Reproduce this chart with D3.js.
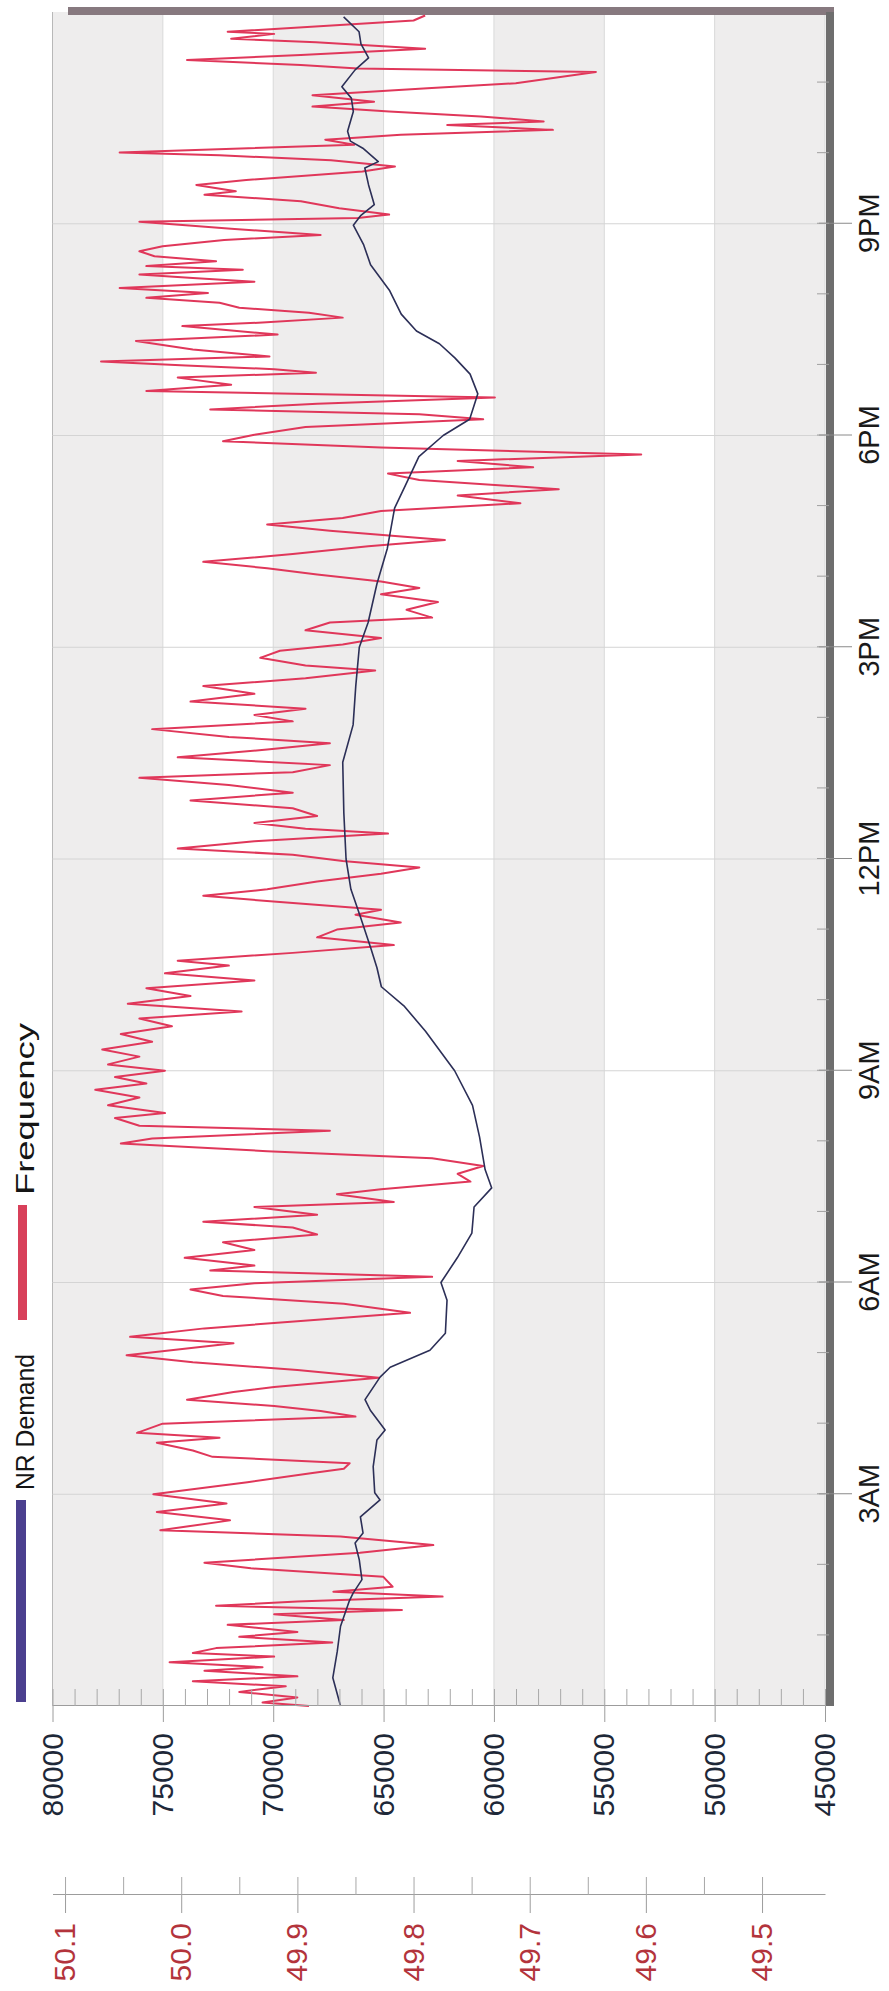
<!DOCTYPE html>
<html>
<head>
<meta charset="utf-8">
<title>NR Demand and Frequency</title>
<script src="https://cdn.jsdelivr.net/npm/d3@7"></script>
<style>
  body { margin: 0; background: #fff; }
  svg text { font-family: "Liberation Sans", Arial, sans-serif; }
</style>
</head>
<body>
<div id="chart"></div>
<script>
// NR demand (MW)
const demandHour = [0.00, 0.40, 0.77, 1.13, 1.49, 1.60, 1.79, 2.07, 2.31, 2.45, 2.68, 2.92, 3.02, 3.39, 3.77, 3.91, 4.19, 4.34, 4.66, 4.80, 5.04, 5.28, 5.75, 6.00, 6.35, 6.70, 7.07, 7.34, 7.60, 8.06, 8.51, 9.00, 9.56, 9.92, 10.19, 10.46, 10.73, 11.20, 11.57, 12.00, 12.65, 13.37, 13.90, 14.45, 15.00, 15.35, 15.90, 16.40, 16.97, 17.30, 17.70, 18.00, 18.23, 18.59, 18.87, 19.10, 19.30, 19.48, 19.72, 20.05, 20.42, 20.70, 20.98, 21.12, 21.27, 21.55, 21.79, 21.88, 22.07, 22.17, 22.31, 22.59, 22.78, 22.94, 23.18, 23.35, 23.55, 23.72, 23.93];
const demandMW = [66950, 67300, 67100, 66950, 66550, 66380, 65980, 66100, 66290, 65930, 66050, 65160, 65400, 65470, 65300, 64930, 65600, 65840, 65160, 64700, 62900, 62200, 62125, 62400, 61660, 61000, 60900, 60100, 60400, 60650, 60970, 61780, 63100, 64080, 65100, 65300, 65570, 66070, 66480, 66700, 66800, 66850, 66380, 66260, 66100, 65700, 65300, 64830, 64500, 64000, 63400, 62300, 61100, 60730, 61080, 61770, 62470, 63510, 64200, 64720, 65590, 65900, 66370, 66025, 65420, 65680, 65850, 65240, 65940, 66500, 66630, 66370, 66460, 66890, 66290, 65680, 66025, 66110, 66810];

// grid frequency (Hz)
const freqHour = [0.00, 0.05, 0.12, 0.20, 0.28, 0.35, 0.42, 0.50, 0.55, 0.62, 0.70, 0.75, 0.82, 0.90, 0.98, 1.05, 1.15, 1.22, 1.30, 1.36, 1.42, 1.48, 1.55, 1.62, 1.69, 1.83, 1.95, 2.03, 2.17, 2.28, 2.40, 2.49, 2.63, 2.75, 2.87, 3.00, 3.17, 3.30, 3.36, 3.44, 3.53, 3.62, 3.73, 3.80, 3.87, 4.00, 4.10, 4.18, 4.25, 4.34, 4.45, 4.52, 4.65, 4.76, 4.87, 4.97, 5.14, 5.23, 5.35, 5.45, 5.57, 5.70, 5.81, 5.90, 5.99, 6.08, 6.17, 6.24, 6.35, 6.46, 6.57, 6.68, 6.78, 6.86, 6.96, 7.07, 7.14, 7.25, 7.32, 7.43, 7.54, 7.65, 7.76, 7.86, 7.97, 8.04, 8.15, 8.22, 8.33, 8.40, 8.51, 8.62, 8.73, 8.82, 8.91, 9.00, 9.09, 9.20, 9.30, 9.41, 9.52, 9.63, 9.74, 9.84, 9.95, 10.06, 10.17, 10.28, 10.38, 10.49, 10.56, 10.67, 10.78, 10.89, 11.00, 11.10, 11.21, 11.28, 11.39, 11.48, 11.57, 11.68, 11.79, 11.88, 11.97, 12.06, 12.15, 12.25, 12.36, 12.43, 12.51, 12.61, 12.72, 12.83, 12.94, 13.05, 13.15, 13.23, 13.33, 13.44, 13.55, 13.64, 13.73, 13.84, 13.95, 14.04, 14.13, 14.23, 14.34, 14.45, 14.56, 14.67, 14.74, 14.85, 14.95, 15.04, 15.13, 15.24, 15.35, 15.42, 15.53, 15.64, 15.75, 15.84, 15.93, 16.03, 16.12, 16.21, 16.32, 16.43, 16.52, 16.65, 16.74, 16.83, 16.93, 17.04, 17.15, 17.24, 17.37, 17.46, 17.55, 17.64, 17.73, 17.83, 17.92, 18.01, 18.12, 18.23, 18.30, 18.37, 18.45, 18.54, 18.63, 18.72, 18.82, 18.89, 18.94, 18.99, 19.05, 19.12, 19.22, 19.34, 19.43, 19.55, 19.60, 19.67, 19.74, 19.81, 19.88, 19.95, 20.02, 20.09, 20.18, 20.23, 20.28, 20.35, 20.40, 20.47, 20.54, 20.61, 20.68, 20.77, 20.84, 20.93, 20.98, 21.03, 21.08, 21.13, 21.22, 21.32, 21.41, 21.46, 21.55, 21.62, 21.74, 21.81, 21.90, 21.97, 22.01, 22.12, 22.19, 22.26, 22.33, 22.40, 22.45, 22.52, 22.59, 22.66, 22.73, 22.82, 22.92, 22.99, 23.15, 23.20, 23.25, 23.32, 23.39, 23.48, 23.57, 23.62, 23.69, 23.72, 23.88, 23.95];
const freqHz = [49.890, 49.930, 49.900, 49.950, 49.910, 49.990, 49.900, 49.980, 49.930, 50.010, 49.920, 49.990, 49.970, 49.870, 49.950, 49.900, 49.960, 49.860, 49.920, 49.810, 49.970, 49.900, 49.775, 49.869, 49.818, 49.826, 49.940, 49.980, 49.846, 49.783, 49.863, 50.018, 49.958, 50.021, 49.961, 50.024, 49.943, 49.887, 49.860, 49.855, 49.973, 49.990, 50.021, 49.967, 50.038, 50.016, 49.850, 49.880, 49.920, 49.995, 49.955, 49.920, 49.830, 49.900, 49.990, 50.047, 49.955, 50.044, 49.980, 49.900, 49.803, 49.860, 49.964, 49.992, 49.937, 49.784, 49.975, 49.937, 49.997, 49.937, 49.964, 49.883, 49.904, 49.981, 49.883, 49.937, 49.817, 49.866, 49.828, 49.751, 49.762, 49.740, 49.784, 49.926, 50.052, 50.025, 49.872, 50.036, 50.057, 50.014, 50.063, 50.036, 50.074, 50.030, 50.057, 50.014, 50.063, 50.036, 50.068, 50.025, 50.052, 50.008, 50.036, 49.948, 50.046, 49.992, 50.030, 49.937, 50.014, 49.959, 50.003, 49.904, 49.817, 49.883, 49.866, 49.811, 49.850, 49.828, 49.915, 49.981, 49.926, 49.883, 49.828, 49.795, 49.861, 49.904, 50.003, 49.937, 49.822, 49.893, 49.937, 49.883, 49.904, 49.992, 49.904, 49.959, 50.036, 49.904, 49.872, 50.003, 49.926, 49.872, 49.959, 50.025, 49.904, 49.937, 49.893, 49.992, 49.937, 49.981, 49.893, 49.833, 49.893, 49.932, 49.915, 49.861, 49.828, 49.893, 49.872, 49.784, 49.806, 49.779, 49.828, 49.795, 49.828, 49.883, 49.926, 49.981, 49.904, 49.839, 49.773, 49.872, 49.926, 49.861, 49.828, 49.708, 49.762, 49.675, 49.795, 49.822, 49.697, 49.762, 49.604, 49.828, 49.964, 49.937, 49.893, 49.740, 49.795, 49.975, 49.883, 49.730, 50.030, 49.957, 50.003, 49.884, 49.920, 49.996, 50.069, 49.924, 49.990, 50.039, 49.917, 49.999, 49.930, 49.861, 49.890, 49.950, 49.967, 50.030, 49.977, 50.053, 49.937, 49.990, 50.036, 49.947, 50.030, 49.970, 50.023, 50.036, 50.016, 49.963, 49.880, 49.957, 49.996, 50.036, 49.848, 49.821, 49.864, 49.897, 49.980, 49.953, 49.987, 49.944, 49.844, 49.816, 49.871, 49.967, 50.053, 49.851, 49.876, 49.811, 49.680, 49.771, 49.688, 49.742, 49.821, 49.887, 49.834, 49.887, 49.788, 49.712, 49.643, 49.848, 49.897, 49.995, 49.897, 49.790, 49.884, 49.957, 49.920, 49.960, 49.800, 49.790];

const timeTicks = [3, 6, 9, 12, 15, 18, 21];
const timeLabels = ["3AM", "6AM", "9AM", "12PM", "3PM", "6PM", "9PM"];
const demandTicks = [45000, 50000, 55000, 60000, 65000, 70000, 75000, 80000];
const freqTicks = [49.5, 49.6, 49.7, 49.8, 49.9, 50.0, 50.1];

const W = 889, H = 1991;
const svg = d3.select("#chart").append("svg")
    .attr("width", W)
    .attr("height", H);

// the chart is laid out landscape and then turned a quarter turn, like the scan
const g = svg.append("g")
    .attr("transform", `translate(0,${H}) rotate(-90)`);

const x = d3.scaleLinear().domain([0, 24]).range([285, 1979]);
const y = d3.scaleLinear().domain([80000, 45000]).range([52.5, 825]);
const yF = d3.scaleLinear().domain([50.1108, 49.4458]).range([52.5, 825]);

// alternating bands
g.selectAll(".band")
    .data(demandTicks.slice(1).reverse().filter((d, i) => i % 2 === 0))
    .enter()
    .append("rect")
    .attr("x", x(0))
    .attr("width", x(24) - x(0))
    .attr("y", d => y(d))
    .attr("height", d => y(d - 5000) - y(d))
    .attr("fill", "#eeeded");

// grid lines
g.selectAll(".hgrid")
    .data(demandTicks)
    .enter()
    .append("line")
    .attr("x1", x(0)).attr("x2", x(24))
    .attr("y1", d => y(d)).attr("y2", d => y(d))
    .attr("stroke", d => d === 80000 ? "#b8b8b8" : "#d9d9d9");

g.selectAll(".vgrid")
    .data(timeTicks)
    .enter()
    .append("line")
    .attr("x1", d => x(d)).attr("x2", d => x(d))
    .attr("y1", y(80000)).attr("y2", y(45000))
    .attr("stroke", "#d4d4d4");

// frame bars
g.append("rect")
    .attr("x", 1976).attr("width", 8)
    .attr("y", 68).attr("height", 766)
    .attr("fill", "#87797f");
g.append("rect")
    .attr("x", x(0)).attr("width", x(24) - x(0))
    .attr("y", 826).attr("height", 8)
    .attr("fill", "#6e6e6e");

// series
const freqLine = d3.line()
    .x(d => x(d[0]))
    .y(d => yF(d[1]));
const demandLine = d3.line()
    .x(d => x(d[0]))
    .y(d => y(d[1]));

g.append("path")
    .datum(d3.zip(freqHour, freqHz))
    .attr("d", freqLine)
    .attr("fill", "none")
    .attr("stroke", "#e0375a")
    .attr("stroke-width", 2)
    .attr("stroke-linejoin", "round");

g.append("path")
    .datum(d3.zip(demandHour, demandMW))
    .attr("d", demandLine)
    .attr("fill", "none")
    .attr("stroke", "#2c2f57")
    .attr("stroke-width", 1.6)
    .attr("stroke-linejoin", "round");

// demand axis
const yAxis = g.append("g")
    .attr("transform", `translate(${x(0)},0)`)
    .call(d3.axisLeft(y).tickValues(demandTicks).tickSize(16).tickSizeOuter(0)
        .tickPadding(11).tickFormat(d3.format("d")));
yAxis.attr("font-family", null).attr("font-size", null);
yAxis.selectAll("path, line").attr("stroke", "#9c9c9c");
yAxis.selectAll("text").attr("font-size", 30).attr("fill", "#1e2838");

g.append("g")
    .attr("transform", `translate(${x(0)},0)`)
    .call(d3.axisRight(y).tickValues(d3.range(45000, 80001, 1000)).tickSize(17).tickFormat(""))
    .call(s => s.select(".domain").remove())
    .selectAll("line").attr("stroke", "#a8a8a8");

// frequency axis
const fAxis = g.append("g")
    .attr("transform", "translate(96,0)")
    .call(d3.axisLeft(yF).tickValues(freqTicks).tickSize(18).tickSizeOuter(0)
        .tickPadding(10).tickFormat(d3.format(".1f")));
fAxis.attr("font-family", null).attr("font-size", null);
fAxis.selectAll("path, line").attr("stroke", "#9c9c9c");
fAxis.selectAll("text").attr("font-size", 30).attr("fill", "#b3343c");

g.append("g")
    .attr("transform", "translate(96,0)")
    .call(d3.axisRight(yF).tickValues(d3.range(0, 13).map(i => 49.5 + i * 0.05)).tickSize(18).tickFormat(""))
    .call(s => s.select(".domain").remove())
    .selectAll("line").attr("stroke", "#a8a8a8");

// time axis
const tAxis = g.append("g")
    .attr("transform", "translate(0,819)")
    .call(d3.axisBottom(x).tickValues(timeTicks).tickSize(33)
        .tickFormat((d, i) => timeLabels[i]));
tAxis.attr("font-family", null).attr("font-size", null);
tAxis.select(".domain").remove();
tAxis.selectAll("line").attr("stroke", "#8a8a8a");
tAxis.selectAll("text")
    .attr("y", 60).attr("dy", 0)
    .attr("font-size", 29)
    .attr("fill", "#1a1a1a");

g.append("g")
    .attr("transform", "translate(0,829)")
    .call(d3.axisTop(x).tickValues(d3.range(1, 24)).tickSize(12).tickFormat(""))
    .call(s => s.select(".domain").remove())
    .selectAll("line").attr("stroke", "#a0a0a0");

// legend
g.append("rect")
    .attr("x", 289).attr("width", 202)
    .attr("y", 16).attr("height", 10)
    .attr("fill", "#4b3f8f");
g.append("text")
    .attr("x", 501).attr("y", 34)
    .attr("font-size", 26)
    .attr("textLength", 136)
    .attr("lengthAdjust", "spacingAndGlyphs")
    .attr("fill", "#151515")
    .text("NR Demand");
g.append("rect")
    .attr("x", 671).attr("width", 115)
    .attr("y", 18).attr("height", 9)
    .attr("fill", "#d8405a");
g.append("text")
    .attr("x", 796).attr("y", 34)
    .attr("font-size", 26)
    .attr("textLength", 172)
    .attr("lengthAdjust", "spacingAndGlyphs")
    .attr("fill", "#151515")
    .text("Frequency");
</script>
</body>
</html>
